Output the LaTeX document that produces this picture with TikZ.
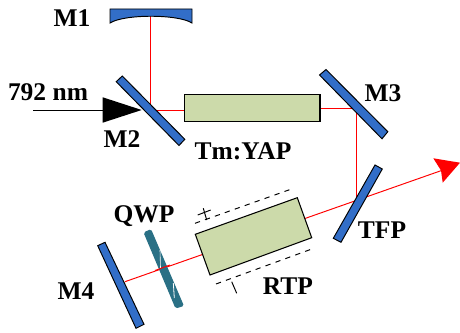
\documentclass[tikz,border=0pt]{standalone}
\usepackage{fontspec}
\setmainfont{Liberation Serif}
\usepackage{tikz}
\usetikzlibrary{calc}
\definecolor{mirrorblue}{RGB}{50,110,200}
\definecolor{crystalgreen}{RGB}{204,218,170}
\definecolor{qwpteal}{RGB}{42,112,133}
\tikzset{
  mirror/.style={draw=black, fill=mirrorblue, line width=0.55pt},
  crystal/.style={draw=black, fill=crystalgreen, line width=0.6pt},
  beam/.style={red, line width=0.55pt},
  lbl/.style={font=\bfseries\fontsize{14.5}{16}\selectfont, inner sep=0pt}
}
\begin{document}
\begin{tikzpicture}[x=0.2mm, y=-0.2mm]
\useasboundingbox (0,0) rectangle (460,333);
\coordinate (onM1) at (150.5,16);
\coordinate (onM2) at (150.5,110);
\coordinate (yapL) at (184.5,110);
\coordinate (yapR) at (320,108.5);
\coordinate (onM3) at (356.5,108.5);
\coordinate (onTFP) at (356.5,203);
\coordinate (onM4) at (125,281.7);
\coordinate (tip) at (443,170);

\draw[beam] (onM1)--(onM2)--(yapL);
\draw[beam] (yapR)--(onM3)--(onTFP);
\draw[beam] (onM4)--(tip);
\fill[red] (460,162.7)--(433.3,158.3)--(441,170.5)--(442.7,182.7)--cycle;

\draw[line width=0.45pt] (33,110)--(103,110);
\fill[black] (102.7,97.3)--(141.7,110)--(102.7,122.7)--cycle;

% mirrors
\draw[mirror] (110,9)--(192,9)--(192,23) .. controls (178,14) and (124,14) .. (110,23)--cycle;
\draw[mirror] (116.2,81.7)--(122.3,76)--(184.8,139.3)--(179,145.5)--cycle;
\draw[mirror] (319.5,75)--(326,69.5)--(387.8,131.7)--(382,138.8)--cycle;
\draw[mirror] (375,165)--(382.3,169)--(341,242.3)--(333.3,238.3)--cycle;
\draw[mirror] (97.7,245.7)--(105,242.3)--(144,324.3)--(136,328.3)--cycle;

% crystals
\draw[crystal] (184.5,94.5) rectangle (320,121.5);
\draw[crystal] (195.3,234.3)--(297.3,197.7)--(311.7,237.7)--(210,275)--cycle;

% waveplate
\fill[qwpteal, rounded corners=1pt] (143.5,232.5)--(151,229)--(184,306)--(175.5,308.5)--cycle;
\draw[white, line width=0.35pt] (160,250)--(160.5,268);
\draw[white, line width=0.45pt] (173.3,283)--(174.3,298);
\draw[beam] (155,270.5)--(170,265);

% electrodes
\draw[dashed, line width=0.55pt] (195,223.3)--(290.7,189.3);
\draw[dashed, line width=0.55pt] (216,284)--(311,249.3);
\draw[line width=0.55pt] (203.3,208.3)--(206.7,220);
\draw[line width=0.55pt] (197.7,215)--(210.7,210);
\draw[line width=0.55pt] (231.7,281.7)--(236.7,293.3);

\node[lbl] (m1) at (72,18) {M1};
\node[lbl] (pump) at (48,92) {792 nm};
\node[lbl] (m2) at (122,139) {M2};
\node[lbl] (yap) at (243,151) {Tm:YAP};
\node[lbl] (m3) at (383,93) {M3};
\node[lbl] (tfp) at (382,230) {TFP};
\node[lbl] (qwp) at (144,216) {QWP};
\node[lbl] (m4) at (76,291) {M4};
\node[lbl] (rtp) at (288,286) {RTP};
\end{tikzpicture}
\end{document}
